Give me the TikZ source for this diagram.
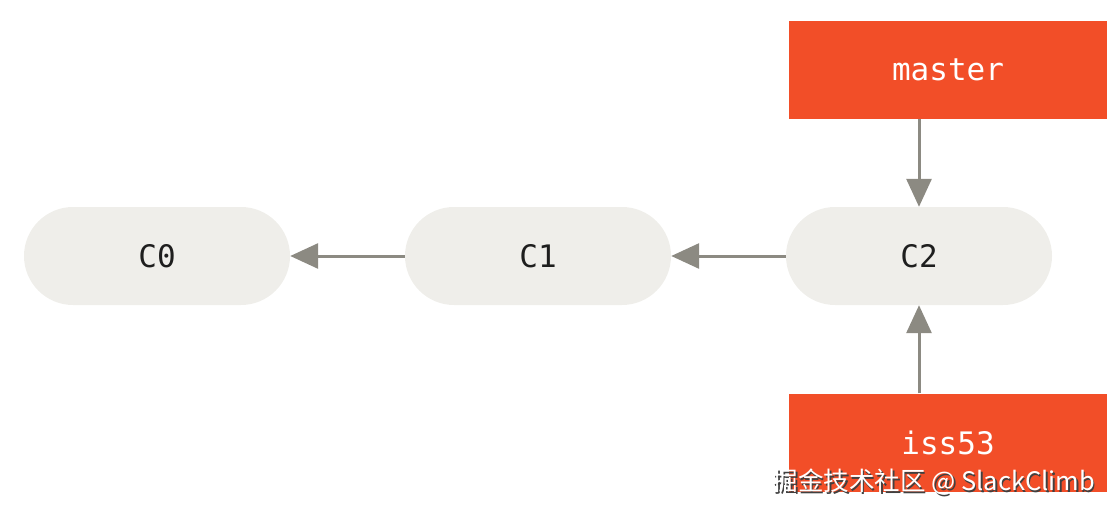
\documentclass[tikz,border=0pt]{standalone}
\usepackage{fontspec}
\setmonofont{DejaVu Sans Mono}
\newfontfamily\cjk{Noto Sans CJK SC}
\usetikzlibrary{arrows.meta}
\definecolor{pillfill}{HTML}{EFEEEA}
\definecolor{branchred}{HTML}{F24E28}
\definecolor{arrowgrey}{HTML}{8C8A82}
\definecolor{pilltext}{HTML}{1E1E1E}
\tikzset{
  commit/.style={rectangle, rounded corners=49pt, fill=pillfill, minimum width=266pt, minimum height=98pt, inner sep=0pt, text=pilltext, font=\fontsize{31}{31}\selectfont\ttfamily},
  branch/.style={rectangle, fill=branchred, minimum width=318pt, minimum height=98pt, inner sep=0pt, text=white, font=\fontsize{31}{31}\selectfont\ttfamily},
  arr/.style={draw=arrowgrey, line width=3pt, -{Triangle[length=28pt, width=25pt]}, arrowgrey},
  wmark/.style={font=\cjk\fontsize{25.5}{25.5}\selectfont, inner sep=0pt}
}
\begin{document}
\begin{tikzpicture}[x=1pt, y=-1pt]
\useasboundingbox (0,0) rectangle (1110,513);
\node[commit] (C0) at (157,256) {C0};
\node[commit] (C1) at (538,256) {C1};
\node[commit] (C2) at (919,256) {C2};
\node[branch] (master) at (948,70) {master};
\node[branch] (iss53) at (948,442.5) {iss53};
\draw[arr] (C1.west) -- (C0.east);
\draw[arr] (C2.west) -- (C1.east);
\draw[arr] (C2.north |- master.south) -- (C2.north);
\draw[arr] (C2.south |- iss53.north) -- (C2.south);
\node[wmark, text=black!75] (wmshadow) at (935.5,483.5) {掘金技术社区 @ SlackClimb};
\node[wmark, text=white] (wm) at (934,482) {掘金技术社区 @ SlackClimb};
\end{tikzpicture}
\end{document}
